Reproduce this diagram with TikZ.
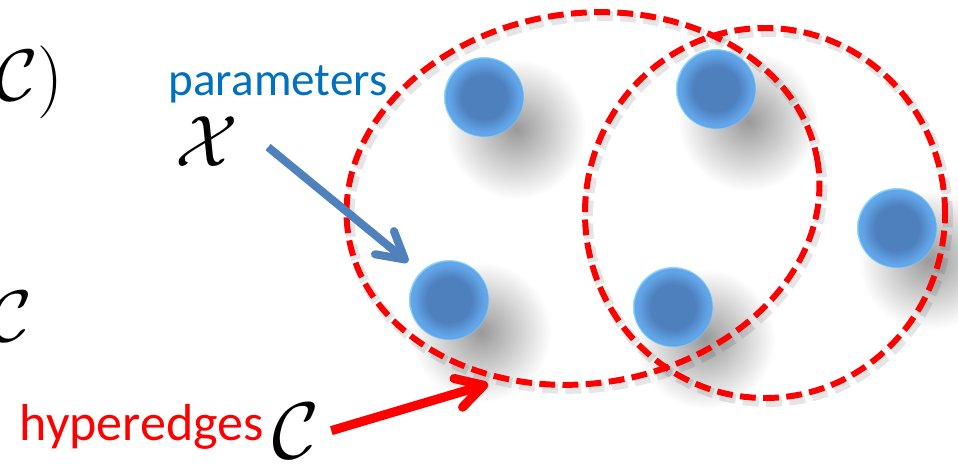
\documentclass[tikz,border=0pt]{standalone}
\usepackage{amsmath, amssymb}
\usepackage{fontspec}
\newfontfamily\calibri{Carlito}
\usepackage{xcolor}
\usepackage{tikz}
\usetikzlibrary{calc, positioning, arrows.meta, fadings}

\definecolor{parblue}{HTML}{0070C0}
\definecolor{arrblue}{HTML}{4F81BD}
\definecolor{ballmid}{HTML}{4E80BE}
\definecolor{ballout}{HTML}{62A6EA}
\definecolor{ballrim}{HTML}{93DDF8}

\pgfdeclareradialshading{ballshade}{\pgfpoint{0bp}{0bp}}{%
    color(0bp)=(ballmid); color(14bp)=(ballmid); color(22.5bp)=(ballout);
    color(24bp)=(ballout); color(25bp)=(ballrim); color(50bp)=(ballrim)}
\tikzfading[name=shadowfade, inner color=transparent!60, outer color=transparent!100]

\begin{document}
\begin{tikzpicture}[>=latex,
    ball/.style={circle, minimum size=0.8cm, inner sep=0pt, shading=ballshade},
    hyperedge/.style={red, line width=1.7pt, dash pattern=on 4.5pt off 2.1pt},
    edgeshadow/.style={black, opacity=0.1, line width=2.8pt, dash pattern=on 4.5pt off 2.1pt},
    bigmath/.style={inner sep=0pt, font=\fontsize{20.74}{24}\selectfont},
    calibritext/.style={inner sep=0pt, anchor=base west, font=\calibri\fontsize{#1}{18}\selectfont}]
    \useasboundingbox (0,0) rectangle (9.58,4.64);
    \clip (0,0) rectangle (9.58,4.64);

    % 1. Shadows of the vertices and hyperedges
    \foreach \x/\y in {4.84/3.67, 7.16/3.75, 8.97/2.36, 4.49/1.64, 6.73/1.57} {
        \fill[black, path fading=shadowfade] (\x+0.32,\y-0.32) circle (0.7);
    }
    \draw[edgeshadow, rotate around={8.6:(5.86,2.615)}] (5.86,2.615) ellipse (2.375 and 1.85);
    \draw[edgeshadow] (7.68,2.47) ellipse (1.80 and 1.85);

    % 2. Hyperedges
    \draw[hyperedge, rotate around={8.6:(5.83,2.655)}] (5.83,2.655) ellipse (2.375 and 1.85);
    \draw[hyperedge] (7.65,2.51) ellipse (1.80 and 1.85);

    % 3. Vertices
    \foreach \n/\x/\y in {A/4.84/3.67, B/7.16/3.75, C/8.97/2.36, D/4.49/1.64, E/6.73/1.57} {
        \node[ball] (ball\n) at (\x,\y) {};
    }

    % 4. Labels
    \node[bigmath, anchor=base east] (pairC) at (0.645,3.64) {$\mathcal{C})$};
    \node[bigmath, anchor=base east] (setC) at (0.33,1.23) {$\mathcal{C}$};
    \node[calibritext=13.4, text=parblue] (param) at (1.68,3.69) {parameters};
    \node[bigmath, anchor=base west] (xsym) at (1.75,2.98) {$\mathcal{X}$};
    \node[calibritext=14.8, text=red] (hyper) at (0.19,0.24) {hyperedges};
    \node[bigmath, anchor=base west] (hypC) at (2.72,0.06) {\scalebox{1.1}{$\mathcal{C}$}};
    \coordinate (edgetip) at (4.88,0.80);

    % 5. Arrows
    \draw[arrblue, line width=2.3pt, -{Straight Barb[length=7.5pt, width=8.5pt, round]}]
        ($(xsym.east)+(0.29,-0.06)$) -- ($(ballD)+(-0.41,0.38)$);
    \draw[red, line width=2.6pt, -{Straight Barb[length=7.5pt, width=8.5pt, round]}]
        ($(hypC.east)+(0.11,0)$) -- (edgetip);
\end{tikzpicture}
\end{document}
